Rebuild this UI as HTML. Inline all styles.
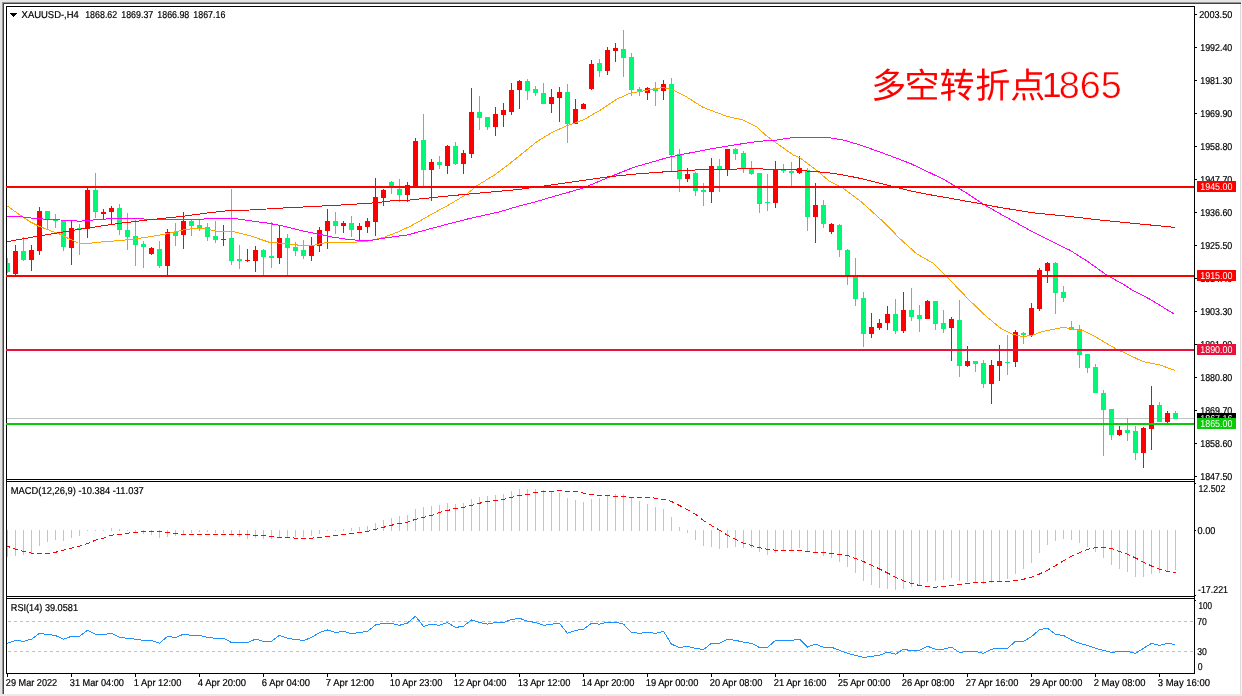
<!DOCTYPE html><html><head><meta charset="utf-8"><title>XAUUSD H4</title>
<style>html,body{margin:0;padding:0;background:#fff}svg{display:block;will-change:transform}text{font-family:"Liberation Sans",sans-serif;text-rendering:geometricPrecision}</style></head><body>
<svg width="1242" height="696" viewBox="0 0 1242 696">
<rect width="1242" height="696" fill="#fff"/>
<g shape-rendering="crispEdges">
<rect x="0" y="0" width="1242" height="2" fill="#e6e6e6"/>
<rect x="0" y="2" width="2" height="692" fill="#e4e4e4"/>
<rect x="2" y="2" width="1239" height="1" fill="#969696"/>
<rect x="2" y="3" width="1239" height="1" fill="#444444"/>
<rect x="2" y="2" width="1" height="692" fill="#969696"/>
<rect x="3" y="3" width="1" height="691" fill="#444444"/>
<rect x="1240" y="4" width="1" height="690" fill="#dcdcdc"/>
<rect x="1241" y="2" width="1" height="692" fill="#f4f4f4"/>
<rect x="0" y="694" width="1242" height="2" fill="#e9e9e9"/>
</g>
<rect x="7" y="418" width="1187" height="1" fill="#c0c0c0" shape-rendering="crispEdges"/>
<g shape-rendering="crispEdges">
<rect x="7" y="258" width="1" height="15" fill="#00f876"/><rect x="7" y="263" width="3" height="9" fill="#00f876"/>
<rect x="15" y="245" width="1" height="30" fill="#ff0000"/><rect x="13" y="251" width="5" height="23" fill="#ff0000"/>
<rect x="23" y="237" width="1" height="24" fill="#00f876"/><rect x="21" y="251" width="5" height="9" fill="#00f876"/>
<rect x="31" y="245" width="1" height="26" fill="#ff0000"/><rect x="29" y="250" width="5" height="10" fill="#ff0000"/>
<rect x="39" y="207" width="1" height="48" fill="#ff0000"/><rect x="37" y="211" width="5" height="40" fill="#ff0000"/>
<rect x="47" y="211" width="1" height="19" fill="#00f876"/><rect x="45" y="211" width="5" height="8" fill="#00f876"/>
<rect x="55" y="214" width="1" height="14" fill="#00f876"/><rect x="53" y="220" width="5" height="1" fill="#00f876"/>
<rect x="63" y="220" width="1" height="31" fill="#00f876"/><rect x="61" y="220" width="5" height="27" fill="#00f876"/>
<rect x="71" y="221" width="1" height="44" fill="#ff0000"/><rect x="69" y="228" width="5" height="20" fill="#ff0000"/>
<rect x="79" y="224" width="1" height="31" fill="#00f876"/><rect x="77" y="228" width="5" height="2" fill="#00f876"/>
<rect x="87" y="188" width="1" height="50" fill="#ff0000"/><rect x="85" y="190" width="5" height="39" fill="#ff0000"/>
<rect x="95" y="173" width="1" height="45" fill="#00f876"/><rect x="93" y="190" width="5" height="22" fill="#00f876"/>
<rect x="103" y="209" width="1" height="10" fill="#ff0000"/><rect x="101" y="212" width="5" height="2" fill="#ff0000"/>
<rect x="111" y="206" width="1" height="19" fill="#ff0000"/><rect x="109" y="208" width="5" height="4" fill="#ff0000"/>
<rect x="119" y="204" width="1" height="31" fill="#00f876"/><rect x="117" y="208" width="5" height="22" fill="#00f876"/>
<rect x="127" y="213" width="1" height="37" fill="#00f876"/><rect x="125" y="230" width="5" height="7" fill="#00f876"/>
<rect x="135" y="220" width="1" height="46" fill="#00f876"/><rect x="133" y="236" width="5" height="9" fill="#00f876"/>
<rect x="143" y="241" width="1" height="27" fill="#00f876"/><rect x="141" y="244" width="5" height="3" fill="#00f876"/>
<rect x="151" y="247" width="1" height="8" fill="#ff0000"/><rect x="149" y="248" width="5" height="6" fill="#ff0000"/>
<rect x="159" y="241" width="1" height="27" fill="#00f876"/><rect x="157" y="249" width="5" height="17" fill="#00f876"/>
<rect x="167" y="229" width="1" height="46" fill="#ff0000"/><rect x="165" y="232" width="5" height="34" fill="#ff0000"/>
<rect x="175" y="223" width="1" height="23" fill="#00f876"/><rect x="173" y="232" width="5" height="4" fill="#00f876"/>
<rect x="183" y="212" width="1" height="37" fill="#ff0000"/><rect x="181" y="221" width="5" height="14" fill="#ff0000"/>
<rect x="191" y="220" width="1" height="16" fill="#00f876"/><rect x="189" y="221" width="5" height="5" fill="#00f876"/>
<rect x="199" y="220" width="1" height="11" fill="#00f876"/><rect x="197" y="225" width="5" height="3" fill="#00f876"/>
<rect x="207" y="223" width="1" height="18" fill="#00f876"/><rect x="205" y="227" width="5" height="10" fill="#00f876"/>
<rect x="215" y="221" width="1" height="22" fill="#00f876"/><rect x="213" y="236" width="5" height="4" fill="#00f876"/>
<rect x="223" y="225" width="1" height="21" fill="#ff0000"/><rect x="221" y="239" width="5" height="1" fill="#ff0000"/>
<rect x="231" y="189" width="1" height="76" fill="#00f876"/><rect x="229" y="238" width="5" height="23" fill="#00f876"/>
<rect x="239" y="245" width="1" height="24" fill="#00f876"/><rect x="237" y="259" width="5" height="2" fill="#00f876"/>
<rect x="247" y="249" width="1" height="13" fill="#ff0000"/><rect x="245" y="260" width="5" height="1" fill="#ff0000"/>
<rect x="255" y="246" width="1" height="26" fill="#ff0000"/><rect x="253" y="250" width="5" height="11" fill="#ff0000"/>
<rect x="263" y="249" width="1" height="26" fill="#00f876"/><rect x="261" y="250" width="5" height="7" fill="#00f876"/>
<rect x="271" y="222" width="1" height="46" fill="#00f876"/><rect x="269" y="256" width="5" height="2" fill="#00f876"/>
<rect x="279" y="226" width="1" height="38" fill="#ff0000"/><rect x="277" y="238" width="5" height="20" fill="#ff0000"/>
<rect x="287" y="234" width="1" height="41" fill="#00f876"/><rect x="285" y="238" width="5" height="10" fill="#00f876"/>
<rect x="295" y="242" width="1" height="14" fill="#00f876"/><rect x="293" y="247" width="5" height="4" fill="#00f876"/>
<rect x="303" y="240" width="1" height="19" fill="#00f876"/><rect x="301" y="250" width="5" height="6" fill="#00f876"/>
<rect x="311" y="237" width="1" height="24" fill="#ff0000"/><rect x="309" y="246" width="5" height="10" fill="#ff0000"/>
<rect x="319" y="227" width="1" height="25" fill="#ff0000"/><rect x="317" y="230" width="5" height="16" fill="#ff0000"/>
<rect x="327" y="209" width="1" height="40" fill="#ff0000"/><rect x="325" y="221" width="5" height="10" fill="#ff0000"/>
<rect x="335" y="212" width="1" height="22" fill="#00f876"/><rect x="333" y="221" width="5" height="5" fill="#00f876"/>
<rect x="343" y="221" width="1" height="12" fill="#ff0000"/><rect x="341" y="223" width="5" height="3" fill="#ff0000"/>
<rect x="351" y="216" width="1" height="21" fill="#00f876"/><rect x="349" y="223" width="5" height="7" fill="#00f876"/>
<rect x="359" y="223" width="1" height="17" fill="#ff0000"/><rect x="357" y="226" width="5" height="4" fill="#ff0000"/>
<rect x="367" y="218" width="1" height="15" fill="#ff0000"/><rect x="365" y="221" width="5" height="6" fill="#ff0000"/>
<rect x="375" y="178" width="1" height="58" fill="#ff0000"/><rect x="373" y="197" width="5" height="25" fill="#ff0000"/>
<rect x="383" y="189" width="1" height="17" fill="#ff0000"/><rect x="381" y="190" width="5" height="8" fill="#ff0000"/>
<rect x="391" y="181" width="1" height="13" fill="#00f876"/><rect x="389" y="182" width="5" height="6" fill="#00f876"/>
<rect x="399" y="179" width="1" height="23" fill="#00f876"/><rect x="397" y="189" width="5" height="6" fill="#00f876"/>
<rect x="407" y="182" width="1" height="20" fill="#ff0000"/><rect x="405" y="185" width="5" height="10" fill="#ff0000"/>
<rect x="415" y="138" width="1" height="49" fill="#ff0000"/><rect x="413" y="141" width="5" height="46" fill="#ff0000"/>
<rect x="423" y="114" width="1" height="72" fill="#00f876"/><rect x="421" y="140" width="5" height="30" fill="#00f876"/>
<rect x="431" y="159" width="1" height="42" fill="#ff0000"/><rect x="429" y="162" width="5" height="8" fill="#ff0000"/>
<rect x="439" y="156" width="1" height="13" fill="#00f876"/><rect x="437" y="162" width="5" height="3" fill="#00f876"/>
<rect x="447" y="145" width="1" height="29" fill="#ff0000"/><rect x="445" y="146" width="5" height="20" fill="#ff0000"/>
<rect x="455" y="142" width="1" height="23" fill="#00f876"/><rect x="453" y="146" width="5" height="18" fill="#00f876"/>
<rect x="463" y="150" width="1" height="24" fill="#ff0000"/><rect x="461" y="153" width="5" height="11" fill="#ff0000"/>
<rect x="471" y="88" width="1" height="70" fill="#ff0000"/><rect x="469" y="112" width="5" height="42" fill="#ff0000"/>
<rect x="479" y="96" width="1" height="34" fill="#00f876"/><rect x="477" y="112" width="5" height="6" fill="#00f876"/>
<rect x="487" y="117" width="1" height="13" fill="#00f876"/><rect x="485" y="117" width="5" height="10" fill="#00f876"/>
<rect x="495" y="107" width="1" height="29" fill="#ff0000"/><rect x="493" y="114" width="5" height="13" fill="#ff0000"/>
<rect x="503" y="103" width="1" height="24" fill="#ff0000"/><rect x="501" y="110" width="5" height="5" fill="#ff0000"/>
<rect x="511" y="83" width="1" height="32" fill="#ff0000"/><rect x="509" y="90" width="5" height="22" fill="#ff0000"/>
<rect x="519" y="80" width="1" height="29" fill="#ff0000"/><rect x="517" y="81" width="5" height="9" fill="#ff0000"/>
<rect x="527" y="79" width="1" height="21" fill="#00f876"/><rect x="525" y="81" width="5" height="10" fill="#00f876"/>
<rect x="535" y="86" width="1" height="10" fill="#00f876"/><rect x="533" y="89" width="5" height="4" fill="#00f876"/>
<rect x="543" y="83" width="1" height="21" fill="#00f876"/><rect x="541" y="93" width="5" height="11" fill="#00f876"/>
<rect x="551" y="89" width="1" height="24" fill="#ff0000"/><rect x="549" y="97" width="5" height="7" fill="#ff0000"/>
<rect x="559" y="87" width="1" height="35" fill="#ff0000"/><rect x="557" y="92" width="5" height="6" fill="#ff0000"/>
<rect x="567" y="84" width="1" height="59" fill="#00f876"/><rect x="565" y="92" width="5" height="32" fill="#00f876"/>
<rect x="575" y="99" width="1" height="25" fill="#ff0000"/><rect x="573" y="109" width="5" height="15" fill="#ff0000"/>
<rect x="583" y="103" width="1" height="6" fill="#ff0000"/><rect x="581" y="104" width="5" height="5" fill="#ff0000"/>
<rect x="591" y="60" width="1" height="30" fill="#ff0000"/><rect x="589" y="64" width="5" height="25" fill="#ff0000"/>
<rect x="599" y="59" width="1" height="18" fill="#00f876"/><rect x="597" y="63" width="5" height="8" fill="#00f876"/>
<rect x="607" y="47" width="1" height="28" fill="#ff0000"/><rect x="605" y="50" width="5" height="21" fill="#ff0000"/>
<rect x="615" y="43" width="1" height="19" fill="#ff0000"/><rect x="613" y="48" width="5" height="3" fill="#ff0000"/>
<rect x="623" y="30" width="1" height="47" fill="#00f876"/><rect x="621" y="49" width="5" height="9" fill="#00f876"/>
<rect x="631" y="53" width="1" height="43" fill="#00f876"/><rect x="629" y="57" width="5" height="33" fill="#00f876"/>
<rect x="639" y="87" width="1" height="9" fill="#00f876"/><rect x="637" y="89" width="5" height="3" fill="#00f876"/>
<rect x="647" y="87" width="1" height="13" fill="#ff0000"/><rect x="645" y="88" width="5" height="5" fill="#ff0000"/>
<rect x="655" y="82" width="1" height="24" fill="#00f876"/><rect x="653" y="88" width="5" height="3" fill="#00f876"/>
<rect x="663" y="80" width="1" height="20" fill="#ff0000"/><rect x="661" y="84" width="5" height="7" fill="#ff0000"/>
<rect x="671" y="78" width="1" height="94" fill="#00f876"/><rect x="669" y="84" width="5" height="71" fill="#00f876"/>
<rect x="679" y="149" width="1" height="43" fill="#00f876"/><rect x="677" y="154" width="5" height="25" fill="#00f876"/>
<rect x="687" y="168" width="1" height="14" fill="#ff0000"/><rect x="685" y="174" width="5" height="5" fill="#ff0000"/>
<rect x="695" y="172" width="1" height="24" fill="#00f876"/><rect x="693" y="173" width="5" height="18" fill="#00f876"/>
<rect x="703" y="183" width="1" height="23" fill="#00f876"/><rect x="701" y="190" width="5" height="2" fill="#00f876"/>
<rect x="711" y="158" width="1" height="45" fill="#ff0000"/><rect x="709" y="166" width="5" height="26" fill="#ff0000"/>
<rect x="719" y="159" width="1" height="33" fill="#00f876"/><rect x="717" y="166" width="5" height="4" fill="#00f876"/>
<rect x="727" y="149" width="1" height="27" fill="#ff0000"/><rect x="725" y="149" width="5" height="21" fill="#ff0000"/>
<rect x="735" y="148" width="1" height="12" fill="#00f876"/><rect x="733" y="149" width="5" height="5" fill="#00f876"/>
<rect x="743" y="151" width="1" height="22" fill="#00f876"/><rect x="741" y="153" width="5" height="16" fill="#00f876"/>
<rect x="751" y="161" width="1" height="14" fill="#00f876"/><rect x="749" y="169" width="5" height="5" fill="#00f876"/>
<rect x="759" y="173" width="1" height="40" fill="#00f876"/><rect x="757" y="173" width="5" height="31" fill="#00f876"/>
<rect x="767" y="174" width="1" height="37" fill="#00f876"/><rect x="765" y="202" width="5" height="1" fill="#00f876"/>
<rect x="775" y="161" width="1" height="47" fill="#ff0000"/><rect x="773" y="169" width="5" height="34" fill="#ff0000"/>
<rect x="783" y="164" width="1" height="9" fill="#00f876"/><rect x="781" y="170" width="5" height="1" fill="#00f876"/>
<rect x="791" y="162" width="1" height="24" fill="#00f876"/><rect x="789" y="171" width="5" height="2" fill="#00f876"/>
<rect x="799" y="156" width="1" height="18" fill="#ff0000"/><rect x="797" y="168" width="5" height="5" fill="#ff0000"/>
<rect x="807" y="168" width="1" height="63" fill="#00f876"/><rect x="805" y="170" width="5" height="47" fill="#00f876"/>
<rect x="815" y="183" width="1" height="60" fill="#ff0000"/><rect x="813" y="205" width="5" height="12" fill="#ff0000"/>
<rect x="823" y="200" width="1" height="28" fill="#00f876"/><rect x="821" y="205" width="5" height="19" fill="#00f876"/>
<rect x="831" y="223" width="1" height="11" fill="#ff0000"/><rect x="829" y="224" width="5" height="8" fill="#ff0000"/>
<rect x="839" y="224" width="1" height="33" fill="#00f876"/><rect x="837" y="225" width="5" height="25" fill="#00f876"/>
<rect x="847" y="249" width="1" height="36" fill="#00f876"/><rect x="845" y="250" width="5" height="25" fill="#00f876"/>
<rect x="855" y="258" width="1" height="48" fill="#00f876"/><rect x="853" y="275" width="5" height="24" fill="#00f876"/>
<rect x="863" y="292" width="1" height="55" fill="#00f876"/><rect x="861" y="298" width="5" height="36" fill="#00f876"/>
<rect x="871" y="313" width="1" height="25" fill="#ff0000"/><rect x="869" y="327" width="5" height="7" fill="#ff0000"/>
<rect x="879" y="319" width="1" height="11" fill="#ff0000"/><rect x="877" y="323" width="5" height="5" fill="#ff0000"/>
<rect x="887" y="306" width="1" height="24" fill="#ff0000"/><rect x="885" y="314" width="5" height="9" fill="#ff0000"/>
<rect x="895" y="299" width="1" height="35" fill="#00f876"/><rect x="893" y="314" width="5" height="17" fill="#00f876"/>
<rect x="903" y="292" width="1" height="41" fill="#ff0000"/><rect x="901" y="310" width="5" height="21" fill="#ff0000"/>
<rect x="911" y="288" width="1" height="33" fill="#00f876"/><rect x="909" y="310" width="5" height="7" fill="#00f876"/>
<rect x="919" y="305" width="1" height="27" fill="#00f876"/><rect x="917" y="315" width="5" height="4" fill="#00f876"/>
<rect x="927" y="300" width="1" height="19" fill="#ff0000"/><rect x="925" y="301" width="5" height="18" fill="#ff0000"/>
<rect x="935" y="301" width="1" height="29" fill="#00f876"/><rect x="933" y="301" width="5" height="23" fill="#00f876"/>
<rect x="943" y="310" width="1" height="23" fill="#00f876"/><rect x="941" y="323" width="5" height="6" fill="#00f876"/>
<rect x="951" y="317" width="1" height="44" fill="#ff0000"/><rect x="949" y="319" width="5" height="9" fill="#ff0000"/>
<rect x="959" y="300" width="1" height="77" fill="#00f876"/><rect x="957" y="320" width="5" height="46" fill="#00f876"/>
<rect x="967" y="346" width="1" height="21" fill="#ff0000"/><rect x="965" y="361" width="5" height="5" fill="#ff0000"/>
<rect x="975" y="361" width="1" height="11" fill="#00f876"/><rect x="973" y="361" width="5" height="3" fill="#00f876"/>
<rect x="983" y="360" width="1" height="28" fill="#00f876"/><rect x="981" y="363" width="5" height="21" fill="#00f876"/>
<rect x="991" y="360" width="1" height="44" fill="#ff0000"/><rect x="989" y="365" width="5" height="19" fill="#ff0000"/>
<rect x="999" y="345" width="1" height="36" fill="#ff0000"/><rect x="997" y="361" width="5" height="5" fill="#ff0000"/>
<rect x="1007" y="335" width="1" height="40" fill="#00f876"/><rect x="1005" y="362" width="5" height="1" fill="#00f876"/>
<rect x="1015" y="330" width="1" height="37" fill="#ff0000"/><rect x="1013" y="332" width="5" height="30" fill="#ff0000"/>
<rect x="1023" y="332" width="1" height="12" fill="#00f876"/><rect x="1021" y="333" width="5" height="2" fill="#00f876"/>
<rect x="1031" y="303" width="1" height="34" fill="#ff0000"/><rect x="1029" y="308" width="5" height="27" fill="#ff0000"/>
<rect x="1039" y="268" width="1" height="43" fill="#ff0000"/><rect x="1037" y="270" width="5" height="39" fill="#ff0000"/>
<rect x="1047" y="262" width="1" height="21" fill="#ff0000"/><rect x="1045" y="263" width="5" height="8" fill="#ff0000"/>
<rect x="1055" y="262" width="1" height="52" fill="#00f876"/><rect x="1053" y="263" width="5" height="30" fill="#00f876"/>
<rect x="1063" y="286" width="1" height="16" fill="#00f876"/><rect x="1061" y="292" width="5" height="6" fill="#00f876"/>
<rect x="1071" y="321" width="1" height="9" fill="#00f876"/><rect x="1069" y="327" width="5" height="3" fill="#00f876"/>
<rect x="1079" y="325" width="1" height="43" fill="#00f876"/><rect x="1077" y="329" width="5" height="26" fill="#00f876"/>
<rect x="1087" y="354" width="1" height="19" fill="#00f876"/><rect x="1085" y="354" width="5" height="14" fill="#00f876"/>
<rect x="1095" y="364" width="1" height="29" fill="#00f876"/><rect x="1093" y="367" width="5" height="26" fill="#00f876"/>
<rect x="1103" y="390" width="1" height="66" fill="#00f876"/><rect x="1101" y="393" width="5" height="17" fill="#00f876"/>
<rect x="1111" y="409" width="1" height="31" fill="#00f876"/><rect x="1109" y="409" width="5" height="26" fill="#00f876"/>
<rect x="1119" y="426" width="1" height="10" fill="#ff0000"/><rect x="1117" y="430" width="5" height="5" fill="#ff0000"/>
<rect x="1127" y="418" width="1" height="23" fill="#00f876"/><rect x="1125" y="430" width="5" height="3" fill="#00f876"/>
<rect x="1135" y="426" width="1" height="34" fill="#00f876"/><rect x="1133" y="431" width="5" height="22" fill="#00f876"/>
<rect x="1143" y="427" width="1" height="41" fill="#ff0000"/><rect x="1141" y="428" width="5" height="25" fill="#ff0000"/>
<rect x="1151" y="386" width="1" height="64" fill="#ff0000"/><rect x="1149" y="405" width="5" height="24" fill="#ff0000"/>
<rect x="1159" y="402" width="1" height="20" fill="#00f876"/><rect x="1157" y="405" width="5" height="17" fill="#00f876"/>
<rect x="1167" y="411" width="1" height="12" fill="#ff0000"/><rect x="1165" y="413" width="5" height="9" fill="#ff0000"/>
<rect x="1175" y="411" width="1" height="8" fill="#00f876"/><rect x="1173" y="413" width="5" height="6" fill="#00f876"/>
</g>
<polyline points="7.0,205.8 20.0,215.0 30.0,221.7 40.0,226.7 50.0,230.5 60.0,234.2 70.0,239.2 78.3,243.0 90.0,243.3 103.3,241.7 116.7,240.8 133.3,239.2 150.0,236.7 166.7,233.8 183.3,230.0 196.7,228.0 207.0,229.2 216.7,231.2 233.3,231.7 250.0,235.8 270.0,242.5 283.3,243.3 300.0,245.3 313.3,245.3 326.7,242.5 350.0,242.5 366.7,241.3 383.3,237.5 396.7,232.5 407.0,227.8 410.8,226.0 433.3,213.3 450.0,204.2 466.7,194.2 476.7,185.8 493.3,175.8 510.0,163.3 526.7,150.0 536.7,141.7 553.3,131.7 566.7,125.8 583.3,120.0 600.0,110.3 616.7,99.2 630.0,93.3 650.0,89.7 663.3,87.5 673.3,90.0 686.7,97.0 703.3,107.5 726.7,116.3 743.3,120.0 756.7,126.7 765.8,135.3 773.3,140.8 776.7,143.3 793.3,155.0 800.0,157.8 816.7,170.4 830.0,181.7 843.3,188.3 850.0,193.3 860.0,200.8 866.7,206.7 876.7,215.8 883.3,221.7 900.0,238.8 916.7,253.8 933.3,263.3 950.0,280.0 966.7,297.5 983.3,313.8 1000.0,327.8 1013.3,334.5 1023.3,336.7 1033.3,335.0 1041.7,331.7 1050.0,330.0 1063.3,327.3 1073.3,329.2 1083.3,330.8 1096.7,337.5 1107.0,343.7 1116.7,349.2 1143.3,361.7 1160.0,365.0 1174.6,370.3" fill="none" stroke="#ffa500" stroke-width="1" shape-rendering="crispEdges" />
<polyline points="7.0,216.3 20.0,216.7 33.3,218.3 50.0,219.5 66.7,220.3 80.0,221.2 93.3,220.0 110.0,218.7 133.3,218.7 150.0,219.2 166.7,219.7 183.3,220.0 200.0,219.5 210.0,218.3 233.3,218.3 250.0,220.8 266.7,223.0 280.0,225.3 300.0,230.3 316.7,233.8 333.3,237.2 350.0,239.7 366.7,240.8 375.0,239.7 391.7,237.0 407.0,235.0 443.3,225.3 466.7,219.2 500.0,211.7 516.7,206.7 533.3,202.5 550.0,197.5 566.7,192.8 583.3,188.0 607.0,178.0 633.3,167.5 666.7,157.8 683.3,154.2 716.7,147.8 750.0,142.5 760.0,141.2 776.7,140.0 793.3,137.5 810.0,137.3 826.7,137.3 843.3,140.0 860.0,145.0 876.7,150.8 893.3,157.0 910.0,163.3 926.7,171.2 943.3,179.2 953.3,185.0 967.0,193.3 983.3,204.2 1000.0,213.7 1016.7,223.0 1033.3,232.2 1053.3,242.0 1070.0,250.3 1086.7,260.8 1106.7,275.0 1125.0,285.3 1133.3,290.8 1150.0,299.2 1174.5,314.3" fill="none" stroke="#ff00ff" stroke-width="1" shape-rendering="crispEdges" />
<polyline points="7.0,241.7 40.0,235.8 80.0,229.2 116.7,223.7 150.0,219.7 183.3,216.2 207.0,213.0 230.0,210.5 250.0,210.0 283.3,208.0 316.7,206.3 350.0,204.5 375.0,202.8 391.7,200.8 407.0,200.3 433.3,197.5 466.7,194.2 500.0,191.2 516.7,189.7 540.0,186.5 566.7,182.8 607.0,177.0 633.3,174.2 666.7,171.7 700.0,169.7 733.3,169.2 750.0,168.3 766.7,169.2 793.3,169.7 810.0,171.3 826.7,172.5 843.3,175.0 860.0,178.3 876.7,182.5 890.0,185.8 910.0,190.8 926.7,194.2 943.3,197.0 967.0,201.3 983.3,204.2 1000.0,207.5 1033.3,212.8 1066.7,216.2 1100.0,220.0 1133.3,223.3 1174.6,227.4" fill="none" stroke="#ff0000" stroke-width="1" shape-rendering="crispEdges" />
<g shape-rendering="crispEdges">
<rect x="7" y="530" width="1" height="27" fill="#c4c4c4"/>
<rect x="15" y="530" width="1" height="26" fill="#c4c4c4"/>
<rect x="23" y="530" width="1" height="25" fill="#c4c4c4"/>
<rect x="31" y="530" width="1" height="23" fill="#c4c4c4"/>
<rect x="39" y="530" width="1" height="16" fill="#c4c4c4"/>
<rect x="47" y="530" width="1" height="12" fill="#c4c4c4"/>
<rect x="55" y="530" width="1" height="10" fill="#c4c4c4"/>
<rect x="63" y="530" width="1" height="11" fill="#c4c4c4"/>
<rect x="71" y="530" width="1" height="8" fill="#c4c4c4"/>
<rect x="79" y="530" width="1" height="6" fill="#c4c4c4"/>
<rect x="87" y="530" width="1" height="1" fill="#c4c4c4"/>
<rect x="95" y="530" width="1" height="1" fill="#c4c4c4"/>
<rect x="103" y="530" width="1" height="1" fill="#c4c4c4"/>
<rect x="111" y="528" width="1" height="3" fill="#c4c4c4"/>
<rect x="119" y="529" width="1" height="2" fill="#c4c4c4"/>
<rect x="127" y="530" width="1" height="1" fill="#c4c4c4"/>
<rect x="135" y="530" width="1" height="3" fill="#c4c4c4"/>
<rect x="143" y="530" width="1" height="4" fill="#c4c4c4"/>
<rect x="151" y="530" width="1" height="5" fill="#c4c4c4"/>
<rect x="159" y="530" width="1" height="8" fill="#c4c4c4"/>
<rect x="167" y="530" width="1" height="7" fill="#c4c4c4"/>
<rect x="175" y="530" width="1" height="6" fill="#c4c4c4"/>
<rect x="183" y="530" width="1" height="4" fill="#c4c4c4"/>
<rect x="191" y="530" width="1" height="3" fill="#c4c4c4"/>
<rect x="199" y="530" width="1" height="2" fill="#c4c4c4"/>
<rect x="207" y="530" width="1" height="2" fill="#c4c4c4"/>
<rect x="215" y="530" width="1" height="3" fill="#c4c4c4"/>
<rect x="223" y="530" width="1" height="3" fill="#c4c4c4"/>
<rect x="231" y="530" width="1" height="4" fill="#c4c4c4"/>
<rect x="239" y="530" width="1" height="7" fill="#c4c4c4"/>
<rect x="247" y="530" width="1" height="9" fill="#c4c4c4"/>
<rect x="255" y="530" width="1" height="8" fill="#c4c4c4"/>
<rect x="263" y="530" width="1" height="9" fill="#c4c4c4"/>
<rect x="271" y="530" width="1" height="9" fill="#c4c4c4"/>
<rect x="279" y="530" width="1" height="8" fill="#c4c4c4"/>
<rect x="287" y="530" width="1" height="8" fill="#c4c4c4"/>
<rect x="295" y="530" width="1" height="7" fill="#c4c4c4"/>
<rect x="303" y="530" width="1" height="7" fill="#c4c4c4"/>
<rect x="311" y="530" width="1" height="6" fill="#c4c4c4"/>
<rect x="319" y="530" width="1" height="4" fill="#c4c4c4"/>
<rect x="327" y="530" width="1" height="1" fill="#c4c4c4"/>
<rect x="335" y="530" width="1" height="1" fill="#c4c4c4"/>
<rect x="343" y="529" width="1" height="2" fill="#c4c4c4"/>
<rect x="351" y="528" width="1" height="3" fill="#c4c4c4"/>
<rect x="359" y="527" width="1" height="4" fill="#c4c4c4"/>
<rect x="367" y="526" width="1" height="5" fill="#c4c4c4"/>
<rect x="375" y="523" width="1" height="8" fill="#c4c4c4"/>
<rect x="383" y="520" width="1" height="11" fill="#c4c4c4"/>
<rect x="391" y="518" width="1" height="13" fill="#c4c4c4"/>
<rect x="399" y="516" width="1" height="15" fill="#c4c4c4"/>
<rect x="407" y="515" width="1" height="16" fill="#c4c4c4"/>
<rect x="415" y="509" width="1" height="22" fill="#c4c4c4"/>
<rect x="423" y="507" width="1" height="24" fill="#c4c4c4"/>
<rect x="431" y="506" width="1" height="25" fill="#c4c4c4"/>
<rect x="439" y="505" width="1" height="26" fill="#c4c4c4"/>
<rect x="447" y="503" width="1" height="28" fill="#c4c4c4"/>
<rect x="455" y="504" width="1" height="27" fill="#c4c4c4"/>
<rect x="463" y="503" width="1" height="28" fill="#c4c4c4"/>
<rect x="471" y="499" width="1" height="32" fill="#c4c4c4"/>
<rect x="479" y="497" width="1" height="34" fill="#c4c4c4"/>
<rect x="487" y="496" width="1" height="35" fill="#c4c4c4"/>
<rect x="495" y="495" width="1" height="36" fill="#c4c4c4"/>
<rect x="503" y="494" width="1" height="37" fill="#c4c4c4"/>
<rect x="511" y="491" width="1" height="40" fill="#c4c4c4"/>
<rect x="519" y="489" width="1" height="42" fill="#c4c4c4"/>
<rect x="527" y="489" width="1" height="42" fill="#c4c4c4"/>
<rect x="535" y="489" width="1" height="42" fill="#c4c4c4"/>
<rect x="543" y="490" width="1" height="41" fill="#c4c4c4"/>
<rect x="551" y="491" width="1" height="40" fill="#c4c4c4"/>
<rect x="559" y="493" width="1" height="38" fill="#c4c4c4"/>
<rect x="567" y="498" width="1" height="33" fill="#c4c4c4"/>
<rect x="575" y="500" width="1" height="31" fill="#c4c4c4"/>
<rect x="583" y="502" width="1" height="29" fill="#c4c4c4"/>
<rect x="591" y="499" width="1" height="32" fill="#c4c4c4"/>
<rect x="599" y="498" width="1" height="33" fill="#c4c4c4"/>
<rect x="607" y="496" width="1" height="35" fill="#c4c4c4"/>
<rect x="615" y="494" width="1" height="37" fill="#c4c4c4"/>
<rect x="623" y="494" width="1" height="37" fill="#c4c4c4"/>
<rect x="631" y="498" width="1" height="33" fill="#c4c4c4"/>
<rect x="639" y="501" width="1" height="30" fill="#c4c4c4"/>
<rect x="647" y="504" width="1" height="27" fill="#c4c4c4"/>
<rect x="655" y="507" width="1" height="24" fill="#c4c4c4"/>
<rect x="663" y="509" width="1" height="22" fill="#c4c4c4"/>
<rect x="671" y="517" width="1" height="14" fill="#c4c4c4"/>
<rect x="679" y="527" width="1" height="4" fill="#c4c4c4"/>
<rect x="687" y="530" width="1" height="3" fill="#c4c4c4"/>
<rect x="695" y="530" width="1" height="10" fill="#c4c4c4"/>
<rect x="703" y="530" width="1" height="16" fill="#c4c4c4"/>
<rect x="711" y="530" width="1" height="17" fill="#c4c4c4"/>
<rect x="719" y="530" width="1" height="19" fill="#c4c4c4"/>
<rect x="727" y="530" width="1" height="18" fill="#c4c4c4"/>
<rect x="735" y="530" width="1" height="17" fill="#c4c4c4"/>
<rect x="743" y="530" width="1" height="18" fill="#c4c4c4"/>
<rect x="751" y="530" width="1" height="18" fill="#c4c4c4"/>
<rect x="759" y="530" width="1" height="22" fill="#c4c4c4"/>
<rect x="767" y="530" width="1" height="25" fill="#c4c4c4"/>
<rect x="775" y="530" width="1" height="23" fill="#c4c4c4"/>
<rect x="783" y="530" width="1" height="21" fill="#c4c4c4"/>
<rect x="791" y="530" width="1" height="20" fill="#c4c4c4"/>
<rect x="799" y="530" width="1" height="18" fill="#c4c4c4"/>
<rect x="807" y="530" width="1" height="21" fill="#c4c4c4"/>
<rect x="815" y="530" width="1" height="23" fill="#c4c4c4"/>
<rect x="823" y="530" width="1" height="26" fill="#c4c4c4"/>
<rect x="831" y="530" width="1" height="28" fill="#c4c4c4"/>
<rect x="839" y="530" width="1" height="32" fill="#c4c4c4"/>
<rect x="847" y="530" width="1" height="37" fill="#c4c4c4"/>
<rect x="855" y="530" width="1" height="43" fill="#c4c4c4"/>
<rect x="863" y="530" width="1" height="51" fill="#c4c4c4"/>
<rect x="871" y="530" width="1" height="55" fill="#c4c4c4"/>
<rect x="879" y="530" width="1" height="58" fill="#c4c4c4"/>
<rect x="887" y="530" width="1" height="59" fill="#c4c4c4"/>
<rect x="895" y="530" width="1" height="60" fill="#c4c4c4"/>
<rect x="903" y="530" width="1" height="59" fill="#c4c4c4"/>
<rect x="911" y="530" width="1" height="57" fill="#c4c4c4"/>
<rect x="919" y="530" width="1" height="55" fill="#c4c4c4"/>
<rect x="927" y="530" width="1" height="52" fill="#c4c4c4"/>
<rect x="935" y="530" width="1" height="51" fill="#c4c4c4"/>
<rect x="943" y="530" width="1" height="50" fill="#c4c4c4"/>
<rect x="951" y="530" width="1" height="48" fill="#c4c4c4"/>
<rect x="959" y="530" width="1" height="51" fill="#c4c4c4"/>
<rect x="967" y="530" width="1" height="52" fill="#c4c4c4"/>
<rect x="975" y="530" width="1" height="53" fill="#c4c4c4"/>
<rect x="983" y="530" width="1" height="54" fill="#c4c4c4"/>
<rect x="991" y="530" width="1" height="53" fill="#c4c4c4"/>
<rect x="999" y="530" width="1" height="52" fill="#c4c4c4"/>
<rect x="1007" y="530" width="1" height="49" fill="#c4c4c4"/>
<rect x="1015" y="530" width="1" height="44" fill="#c4c4c4"/>
<rect x="1023" y="530" width="1" height="39" fill="#c4c4c4"/>
<rect x="1031" y="530" width="1" height="33" fill="#c4c4c4"/>
<rect x="1039" y="530" width="1" height="23" fill="#c4c4c4"/>
<rect x="1047" y="530" width="1" height="15" fill="#c4c4c4"/>
<rect x="1055" y="530" width="1" height="11" fill="#c4c4c4"/>
<rect x="1063" y="530" width="1" height="9" fill="#c4c4c4"/>
<rect x="1071" y="530" width="1" height="10" fill="#c4c4c4"/>
<rect x="1079" y="530" width="1" height="13" fill="#c4c4c4"/>
<rect x="1087" y="530" width="1" height="17" fill="#c4c4c4"/>
<rect x="1095" y="530" width="1" height="22" fill="#c4c4c4"/>
<rect x="1103" y="530" width="1" height="28" fill="#c4c4c4"/>
<rect x="1111" y="530" width="1" height="35" fill="#c4c4c4"/>
<rect x="1119" y="530" width="1" height="39" fill="#c4c4c4"/>
<rect x="1127" y="530" width="1" height="42" fill="#c4c4c4"/>
<rect x="1135" y="530" width="1" height="47" fill="#c4c4c4"/>
<rect x="1143" y="530" width="1" height="47" fill="#c4c4c4"/>
<rect x="1151" y="530" width="1" height="44" fill="#c4c4c4"/>
<rect x="1159" y="530" width="1" height="43" fill="#c4c4c4"/>
<rect x="1167" y="530" width="1" height="42" fill="#c4c4c4"/>
<rect x="1175" y="530" width="1" height="40" fill="#c4c4c4"/>
</g>
<path d="M7.0 546.1L7.5 546.3L10.0 547.2M13.0 548.4L15.5 549.3L18.0 549.9M21.0 550.7L23.5 551.3L26.0 551.9M29.0 552.6L31.5 553.2L34.0 553.3M37.0 553.4L39.5 553.5L42.0 553.5M45.0 553.5L47.5 553.5L50.0 553.1M53.0 552.7L55.5 552.3L58.0 551.6M61.0 550.9L63.5 550.2L66.0 549.6M69.0 548.8L71.5 548.2L74.0 547.6M77.0 546.9L79.5 546.3L82.0 545.4M85.0 544.4L87.5 543.5L90.0 542.5M93.0 541.2L95.5 540.2L98.0 539.6M101.0 538.8L103.5 538.2L106.0 537.3M109.0 536.1L111.5 535.2L114.0 534.9M117.0 534.6L119.5 534.3L122.0 534.0M125.0 533.5L127.5 533.2L130.0 532.9M133.0 532.6L135.5 532.3L138.0 532.0M141.0 531.8L143.5 531.5L146.0 531.4M149.0 531.4L151.5 531.3L154.0 531.4M157.0 531.4L159.5 531.5L162.0 531.8M165.0 532.0L167.5 532.3L170.0 532.7M173.0 533.1L175.5 533.5L178.0 533.8M181.0 534.0L183.5 534.3L186.0 534.3M189.0 534.3L191.5 534.3L194.0 534.3M197.0 534.3L199.5 534.3L202.0 534.3M205.0 534.3L207.5 534.3L210.0 534.3M213.0 534.3L215.5 534.3L218.0 534.3M221.0 534.3L223.5 534.3L226.0 534.3M229.0 534.3L231.5 534.3L234.0 534.3M237.0 534.3L239.5 534.3L242.0 534.4M245.0 534.6L247.5 534.7L250.0 535.0M253.0 535.2L255.5 535.5L258.0 535.5M261.0 535.5L263.5 535.5L266.0 535.8M269.0 536.2L271.5 536.5L274.0 536.8M277.0 537.0L279.5 537.3L282.0 537.3M285.0 537.3L287.5 537.3L290.0 537.6M293.0 537.9L295.5 538.2L298.0 538.2M301.0 538.2L303.5 538.2L306.0 538.2M309.0 538.2L311.5 538.2L314.0 537.9M317.0 537.6L319.5 537.3L322.0 537.0M325.0 536.6L327.5 536.3L330.0 536.0M333.0 535.8L335.5 535.5L338.0 535.1M341.0 534.7L343.5 534.3L346.0 534.0M349.0 533.8L351.5 533.5L354.0 533.1M357.0 532.7L359.5 532.3L362.0 532.0M365.0 531.6L367.5 531.3L370.0 530.7M373.0 529.9L375.5 529.3L378.0 528.7M381.0 527.9L383.5 527.3L386.0 526.6M389.0 525.9L391.5 525.2L394.0 524.7M397.0 524.0L399.5 523.5L402.0 523.1M405.0 522.6L407.5 522.2L410.0 521.3M413.0 520.2L415.5 519.3L418.0 518.7M421.0 517.9L423.5 517.3L426.0 516.7M429.0 516.1L431.5 515.5L434.0 514.5M437.0 513.3L439.5 512.3L442.0 511.7M445.0 511.1L447.5 510.5L450.0 509.9M453.0 509.1L455.5 508.5L458.0 508.1M461.0 507.7L463.5 507.3L466.0 506.7M469.0 506.1L471.5 505.5L474.0 504.8M477.0 503.9L479.5 503.2L482.0 502.7M485.0 502.0L487.5 501.5L490.0 501.2M493.0 500.8L495.5 500.5L498.0 500.1M501.0 499.7L503.5 499.3L506.0 498.7M509.0 497.9L511.5 497.3L514.0 496.7M517.0 496.1L519.5 495.5L522.0 495.2M525.0 494.9L527.5 494.7L530.0 493.9M533.0 493.1L535.5 492.3L538.0 492.1M541.0 491.8L543.5 491.5L546.0 491.5M549.0 491.5L551.5 491.5L554.0 491.2M557.0 490.8L559.5 490.5L562.0 490.8M565.0 491.1L567.5 491.3L570.0 491.3M573.0 491.3L575.5 491.3L578.0 491.9M581.0 492.6L583.5 493.2L586.0 493.5M589.0 494.0L591.5 494.3L594.0 494.7M597.0 495.1L599.5 495.5L602.0 495.6M605.0 495.6L607.5 495.7L610.0 495.9M613.0 496.1L615.5 496.3L618.0 496.4M621.0 496.4L623.5 496.5L626.0 496.8M629.0 497.1L631.5 497.3L634.0 497.3M637.0 497.3L639.5 497.3L642.0 497.3M645.0 497.3L647.5 497.3L650.0 497.6M653.0 497.9L655.5 498.2L658.0 498.5M661.0 499.0L663.5 499.3L666.0 500.0M669.0 500.8L671.5 501.5L674.0 502.8M677.0 504.2L679.5 505.5L682.0 506.8M685.0 508.4L687.5 509.7L690.0 511.1M693.0 512.9L695.5 514.3L698.0 516.2M701.0 518.6L703.5 520.5L706.0 522.1M709.0 523.9L711.5 525.5L714.0 527.0M717.0 528.7L719.5 530.2L722.0 531.8M725.0 533.6L727.5 535.2L730.0 536.5M733.0 538.0L735.5 539.3L738.0 540.5M741.0 542.0L743.5 543.2L746.0 543.9M749.0 544.8L751.5 545.5L754.0 546.2M757.0 547.0L759.5 547.7L762.0 548.2M765.0 548.8L767.5 549.3L770.0 549.6M773.0 549.9L775.5 550.2L778.0 550.2M781.0 550.2L783.5 550.2L786.0 550.2M789.0 550.2L791.5 550.2L794.0 550.2M797.0 550.2L799.5 550.2L802.0 550.6M805.0 551.1L807.5 551.5L810.0 551.8M813.0 552.0L815.5 552.3L818.0 552.3M821.0 552.3L823.5 552.3L826.0 552.7M829.0 553.1L831.5 553.5L834.0 553.8M837.0 554.0L839.5 554.3L842.0 554.7M845.0 555.1L847.5 555.5L850.0 556.4M853.0 557.6L855.5 558.5L858.0 559.4M861.0 560.6L863.5 561.5L866.0 562.7M869.0 564.0L871.5 565.2L874.0 566.4M877.0 567.8L879.5 569.0L882.0 570.2M885.0 571.8L887.5 573.0L890.0 574.3M893.0 575.9L895.5 577.2L898.0 578.3M901.0 579.6L903.5 580.7L906.0 581.6M909.0 582.6L911.5 583.5L914.0 584.1M917.0 584.9L919.5 585.5L922.0 585.8M925.0 586.2L927.5 586.5L930.0 586.7M933.0 587.0L935.5 587.2L938.0 586.9M941.0 586.6L943.5 586.3L946.0 586.0M949.0 585.8L951.5 585.5L954.0 585.1M957.0 584.7L959.5 584.3L962.0 584.0M965.0 583.8L967.5 583.5L970.0 583.1M973.0 582.7L975.5 582.3L978.0 582.3M981.0 582.3L983.5 582.3L986.0 582.0M989.0 581.8L991.5 581.5L994.0 581.5M997.0 581.5L999.5 581.5L1002.0 581.5M1005.0 581.5L1007.5 581.5L1010.0 581.2M1013.0 580.8L1015.5 580.5L1018.0 580.1M1021.0 579.7L1023.5 579.3L1026.0 578.6M1029.0 577.9L1031.5 577.2L1034.0 576.2M1037.0 575.0L1039.5 574.0L1042.0 572.8M1045.0 571.4L1047.5 570.2L1050.0 568.8M1053.0 567.1L1055.5 565.7L1058.0 564.1M1061.0 562.3L1063.5 560.7L1066.0 559.3M1069.0 557.7L1071.5 556.3L1074.0 555.2M1077.0 553.8L1079.5 552.7L1082.0 551.6M1085.0 550.4L1087.5 549.3L1090.0 548.8M1093.0 548.2L1095.5 547.7L1098.0 547.7M1101.0 547.7L1103.5 547.7L1106.0 548.0M1109.0 548.2L1111.5 548.5L1114.0 549.4M1117.0 550.6L1119.5 551.5L1122.0 552.4M1125.0 553.4L1127.5 554.3L1130.0 555.5M1133.0 556.8L1135.5 558.0L1138.0 559.3M1141.0 560.9L1143.5 562.2L1146.0 563.4M1149.0 564.8L1151.5 566.0L1154.0 567.0M1157.0 568.3L1159.5 569.3L1162.0 569.9M1165.0 570.7L1167.5 571.3L1170.0 571.6M1173.0 572.0L1175.5 572.3L1175.2 572.3" fill="none" stroke="#ff0000" stroke-width="1" stroke-linejoin="bevel" shape-rendering="crispEdges"/>
<g shape-rendering="crispEdges">
<line x1="8" y1="621.5" x2="1194" y2="621.5" stroke="#c0c0c0" stroke-width="1" stroke-dasharray="3 3"/>
<line x1="8" y1="651.5" x2="1194" y2="651.5" stroke="#c0c0c0" stroke-width="1" stroke-dasharray="3 3"/>
</g>
<polyline points="7.0,643.6 7.5,643.3 15.5,640.3 23.5,641.3 31.5,639.2 39.5,633.3 47.5,634.5 55.5,635.5 63.5,639.2 71.5,636.3 79.5,636.3 87.5,630.3 95.5,634.2 103.5,634.5 111.5,633.3 119.5,637.2 127.5,638.3 135.5,639.2 143.5,640.3 151.5,640.3 159.5,643.3 167.5,636.3 175.5,637.5 183.5,634.2 191.5,635.3 199.5,635.3 207.5,637.5 215.5,638.3 223.5,638.3 231.5,642.5 239.5,642.5 247.5,642.5 255.5,639.2 263.5,641.3 271.5,641.3 279.5,635.3 287.5,638.3 295.5,639.5 303.5,640.5 311.5,637.5 319.5,632.5 327.5,630.0 335.5,632.5 343.5,631.3 351.5,633.7 359.5,632.5 367.5,631.3 375.5,625.0 383.5,623.3 391.5,623.3 399.5,625.3 407.5,623.0 415.5,616.2 423.5,626.3 431.5,624.2 439.5,625.3 447.5,622.5 455.5,627.5 463.5,626.2 471.5,620.0 479.5,622.5 487.5,624.2 495.5,622.5 503.5,622.5 511.5,619.5 519.5,618.3 527.5,621.2 535.5,622.5 543.5,625.3 551.5,624.2 559.5,623.3 567.5,633.3 575.5,630.3 583.5,629.2 591.5,623.3 599.5,624.2 607.5,622.2 615.5,622.2 623.5,624.2 631.5,632.2 639.5,633.3 647.5,632.2 655.5,633.3 663.5,631.3 671.5,644.2 679.5,647.5 687.5,646.3 695.5,648.3 703.5,649.5 711.5,643.3 719.5,643.3 727.5,639.2 735.5,640.3 743.5,642.2 751.5,643.3 759.5,647.5 767.5,647.5 775.5,640.3 783.5,640.3 791.5,640.3 799.5,639.2 807.5,647.0 815.5,644.2 823.5,647.2 831.5,647.2 839.5,650.3 847.5,653.3 855.5,655.3 863.5,657.5 871.5,656.3 879.5,655.3 887.5,652.2 895.5,654.2 903.5,649.2 911.5,650.8 919.5,650.3 927.5,646.3 935.5,649.2 943.5,649.2 951.5,647.2 959.5,652.5 967.5,651.3 975.5,651.3 983.5,653.3 991.5,649.2 999.5,648.3 1007.5,648.3 1015.5,641.3 1023.5,641.3 1031.5,636.7 1039.5,629.5 1047.5,628.3 1055.5,634.2 1063.5,635.5 1071.5,640.0 1079.5,643.3 1087.5,645.3 1095.5,648.3 1103.5,650.3 1111.5,652.5 1119.5,651.3 1127.5,651.3 1135.5,653.3 1143.5,648.3 1151.5,643.3 1159.5,645.3 1167.5,643.3 1175.5,644.5" fill="none" stroke="#1e90ff" stroke-width="1" shape-rendering="crispEdges"/>
<g shape-rendering="crispEdges" fill="#000">
<rect x="6" y="6" width="1" height="668"/>
<rect x="1194" y="6" width="1" height="668"/>
<rect x="6" y="6" width="1189" height="1"/>
<rect x="6" y="479" width="1189" height="1"/>
<rect x="6" y="481" width="1189" height="1"/>
<rect x="6" y="596" width="1189" height="1"/>
<rect x="6" y="598" width="1189" height="1"/>
<rect x="6" y="673" width="1189" height="1"/>
<rect x="1195" y="14" width="2" height="1"/>
<rect x="1195" y="47" width="2" height="1"/>
<rect x="1195" y="80" width="2" height="1"/>
<rect x="1195" y="113" width="2" height="1"/>
<rect x="1195" y="146" width="2" height="1"/>
<rect x="1195" y="179" width="2" height="1"/>
<rect x="1195" y="212" width="2" height="1"/>
<rect x="1195" y="245" width="2" height="1"/>
<rect x="1195" y="278" width="2" height="1"/>
<rect x="1195" y="311" width="2" height="1"/>
<rect x="1195" y="344" width="2" height="1"/>
<rect x="1195" y="377" width="2" height="1"/>
<rect x="1195" y="410" width="2" height="1"/>
<rect x="1195" y="443" width="2" height="1"/>
<rect x="1195" y="476" width="2" height="1"/>
<rect x="1195" y="483" width="1" height="1"/>
<rect x="1195" y="530" width="1" height="1"/>
<rect x="1195" y="595" width="1" height="1"/>
<rect x="1195" y="600" width="1" height="1"/>
<rect x="7" y="674" width="1" height="3"/>
<rect x="71" y="674" width="1" height="3"/>
<rect x="135" y="674" width="1" height="3"/>
<rect x="199" y="674" width="1" height="3"/>
<rect x="263" y="674" width="1" height="3"/>
<rect x="327" y="674" width="1" height="3"/>
<rect x="391" y="674" width="1" height="3"/>
<rect x="455" y="674" width="1" height="3"/>
<rect x="519" y="674" width="1" height="3"/>
<rect x="583" y="674" width="1" height="3"/>
<rect x="647" y="674" width="1" height="3"/>
<rect x="711" y="674" width="1" height="3"/>
<rect x="775" y="674" width="1" height="3"/>
<rect x="839" y="674" width="1" height="3"/>
<rect x="903" y="674" width="1" height="3"/>
<rect x="967" y="674" width="1" height="3"/>
<rect x="1031" y="674" width="1" height="3"/>
<rect x="1095" y="674" width="1" height="3"/>
<rect x="1159" y="674" width="1" height="3"/>
<path d="M10 13h7v1h-1v1h-1v1h-1v1h-1v-1h-1v-1h-1v-1h-1z"/>
</g>
<g shape-rendering="crispEdges">
<rect x="6" y="186" width="1188" height="2" fill="#ff0000"/>
<rect x="6" y="275" width="1188" height="2" fill="#ff0000"/>
<rect x="6" y="349" width="1188" height="2" fill="#e8113a"/>
<rect x="6" y="423" width="1188" height="2" fill="#08cc08"/>
</g>
<text x="1199.3" y="18" font-size="10.0" fill="#000" stroke="#000" stroke-width="0.2" textLength="33" lengthAdjust="spacingAndGlyphs" text-anchor="start">2003.50</text>
<text x="1200.2" y="51" font-size="10.0" fill="#000" stroke="#000" stroke-width="0.2" textLength="32.1" lengthAdjust="spacingAndGlyphs" text-anchor="start">1992.40</text>
<text x="1200.2" y="84" font-size="10.0" fill="#000" stroke="#000" stroke-width="0.2" textLength="32.1" lengthAdjust="spacingAndGlyphs" text-anchor="start">1981.30</text>
<text x="1200.2" y="117" font-size="10.0" fill="#000" stroke="#000" stroke-width="0.2" textLength="32.1" lengthAdjust="spacingAndGlyphs" text-anchor="start">1969.90</text>
<text x="1200.2" y="150" font-size="10.0" fill="#000" stroke="#000" stroke-width="0.2" textLength="32.1" lengthAdjust="spacingAndGlyphs" text-anchor="start">1958.80</text>
<text x="1200.2" y="183" font-size="10.0" fill="#000" stroke="#000" stroke-width="0.2" textLength="32.1" lengthAdjust="spacingAndGlyphs" text-anchor="start">1947.70</text>
<text x="1200.2" y="216" font-size="10.0" fill="#000" stroke="#000" stroke-width="0.2" textLength="32.1" lengthAdjust="spacingAndGlyphs" text-anchor="start">1936.60</text>
<text x="1200.2" y="249" font-size="10.0" fill="#000" stroke="#000" stroke-width="0.2" textLength="32.1" lengthAdjust="spacingAndGlyphs" text-anchor="start">1925.50</text>
<text x="1200.2" y="282" font-size="10.0" fill="#000" stroke="#000" stroke-width="0.2" textLength="32.1" lengthAdjust="spacingAndGlyphs" text-anchor="start">1914.40</text>
<text x="1200.2" y="315" font-size="10.0" fill="#000" stroke="#000" stroke-width="0.2" textLength="32.1" lengthAdjust="spacingAndGlyphs" text-anchor="start">1903.30</text>
<text x="1200.2" y="348" font-size="10.0" fill="#000" stroke="#000" stroke-width="0.2" textLength="32.1" lengthAdjust="spacingAndGlyphs" text-anchor="start">1891.90</text>
<text x="1200.2" y="381" font-size="10.0" fill="#000" stroke="#000" stroke-width="0.2" textLength="32.1" lengthAdjust="spacingAndGlyphs" text-anchor="start">1880.80</text>
<text x="1200.2" y="414" font-size="10.0" fill="#000" stroke="#000" stroke-width="0.2" textLength="32.1" lengthAdjust="spacingAndGlyphs" text-anchor="start">1869.70</text>
<text x="1200.2" y="447" font-size="10.0" fill="#000" stroke="#000" stroke-width="0.2" textLength="32.1" lengthAdjust="spacingAndGlyphs" text-anchor="start">1858.60</text>
<text x="1200.2" y="480" font-size="10.0" fill="#000" stroke="#000" stroke-width="0.2" textLength="32.1" lengthAdjust="spacingAndGlyphs" text-anchor="start">1847.50</text>
<text x="1198.5" y="492" font-size="10.0" fill="#000" stroke="#000" stroke-width="0.2" textLength="26.8" lengthAdjust="spacingAndGlyphs" text-anchor="start">12.502</text>
<text x="1197.5" y="534" font-size="10.0" fill="#000" stroke="#000" stroke-width="0.2" textLength="17.8" lengthAdjust="spacingAndGlyphs" text-anchor="start">0.00</text>
<text x="1198" y="593" font-size="10.0" fill="#000" stroke="#000" stroke-width="0.2" textLength="30" lengthAdjust="spacingAndGlyphs" text-anchor="start">-17.221</text>
<text x="1198.5" y="609" font-size="10.0" fill="#000" stroke="#000" stroke-width="0.2" textLength="13.5" lengthAdjust="spacingAndGlyphs" text-anchor="start">100</text>
<text x="1197.2" y="625" font-size="10.0" fill="#000" stroke="#000" stroke-width="0.2" textLength="9.6" lengthAdjust="spacingAndGlyphs" text-anchor="start">70</text>
<text x="1197.2" y="655" font-size="10.0" fill="#000" stroke="#000" stroke-width="0.2" textLength="9.6" lengthAdjust="spacingAndGlyphs" text-anchor="start">30</text>
<text x="1197.8" y="670" font-size="10.0" fill="#000" stroke="#000" stroke-width="0.2" textLength="4.8" lengthAdjust="spacingAndGlyphs" text-anchor="start">0</text>
<rect x="1197" y="181" width="39" height="11" fill="#ff0000" shape-rendering="crispEdges"/>
<text x="1200.2" y="190" font-size="10.0" fill="#fff" stroke="#fff" stroke-width="0" textLength="32.3" lengthAdjust="spacingAndGlyphs" text-anchor="start">1945.00</text>
<rect x="1197" y="270" width="39" height="11" fill="#ff0000" shape-rendering="crispEdges"/>
<text x="1200.2" y="279" font-size="10.0" fill="#fff" stroke="#fff" stroke-width="0" textLength="32.3" lengthAdjust="spacingAndGlyphs" text-anchor="start">1915.00</text>
<rect x="1197" y="344" width="39" height="11" fill="#e8113a" shape-rendering="crispEdges"/>
<text x="1200.2" y="353" font-size="10.0" fill="#fff" stroke="#fff" stroke-width="0" textLength="32.3" lengthAdjust="spacingAndGlyphs" text-anchor="start">1890.00</text>
<rect x="1197" y="413" width="39" height="11" fill="#000" shape-rendering="crispEdges"/>
<text x="1200.2" y="422" font-size="10.0" fill="#fff" stroke="#fff" stroke-width="0" textLength="32.3" lengthAdjust="spacingAndGlyphs" text-anchor="start">1867.16</text>
<rect x="1197" y="418" width="39" height="11" fill="#08cc08" shape-rendering="crispEdges"/>
<text x="1200.2" y="427" font-size="10.0" fill="#fff" stroke="#fff" stroke-width="0" textLength="32.3" lengthAdjust="spacingAndGlyphs" text-anchor="start">1865.00</text>
<text x="21.6" y="18" font-size="10.0" fill="#000" stroke="#000" stroke-width="0.2" textLength="57.2" lengthAdjust="spacingAndGlyphs" text-anchor="start">XAUUSD-,H4</text>
<text x="85.2" y="18" font-size="10.0" fill="#000" stroke="#000" stroke-width="0.2" textLength="32" lengthAdjust="spacingAndGlyphs" text-anchor="start">1868.62</text>
<text x="121.25" y="18" font-size="10.0" fill="#000" stroke="#000" stroke-width="0.2" textLength="32" lengthAdjust="spacingAndGlyphs" text-anchor="start">1869.37</text>
<text x="157.3" y="18" font-size="10.0" fill="#000" stroke="#000" stroke-width="0.2" textLength="32" lengthAdjust="spacingAndGlyphs" text-anchor="start">1866.98</text>
<text x="193.35" y="18" font-size="10.0" fill="#000" stroke="#000" stroke-width="0.2" textLength="32" lengthAdjust="spacingAndGlyphs" text-anchor="start">1867.16</text>
<text x="10.8" y="494" font-size="10.0" fill="#000" stroke="#000" stroke-width="0.2" textLength="133" lengthAdjust="spacingAndGlyphs" text-anchor="start">MACD(12,26,9) -10.384 -11.037</text>
<text x="10.8" y="611" font-size="10.0" fill="#000" stroke="#000" stroke-width="0.2" textLength="67.2" lengthAdjust="spacingAndGlyphs" text-anchor="start">RSI(14) 39.0581</text>
<text x="5.8" y="686" font-size="10.0" fill="#000" stroke="#000" stroke-width="0.2" textLength="51.4" lengthAdjust="spacingAndGlyphs" text-anchor="start">29 Mar 2022</text>
<text x="69.8" y="686" font-size="10.0" fill="#000" stroke="#000" stroke-width="0.2" textLength="54.2" lengthAdjust="spacingAndGlyphs" text-anchor="start">31 Mar 04:00</text>
<text x="133.8" y="686" font-size="10.0" fill="#000" stroke="#000" stroke-width="0.2" textLength="47.5" lengthAdjust="spacingAndGlyphs" text-anchor="start">1 Apr 12:00</text>
<text x="197.8" y="686" font-size="10.0" fill="#000" stroke="#000" stroke-width="0.2" textLength="48.3" lengthAdjust="spacingAndGlyphs" text-anchor="start">4 Apr 20:00</text>
<text x="261.8" y="686" font-size="10.0" fill="#000" stroke="#000" stroke-width="0.2" textLength="48.3" lengthAdjust="spacingAndGlyphs" text-anchor="start">6 Apr 04:00</text>
<text x="325.8" y="686" font-size="10.0" fill="#000" stroke="#000" stroke-width="0.2" textLength="48.3" lengthAdjust="spacingAndGlyphs" text-anchor="start">7 Apr 12:00</text>
<text x="389.8" y="686" font-size="10.0" fill="#000" stroke="#000" stroke-width="0.2" textLength="52.6" lengthAdjust="spacingAndGlyphs" text-anchor="start">10 Apr 23:00</text>
<text x="453.8" y="686" font-size="10.0" fill="#000" stroke="#000" stroke-width="0.2" textLength="52.6" lengthAdjust="spacingAndGlyphs" text-anchor="start">12 Apr 04:00</text>
<text x="517.8" y="686" font-size="10.0" fill="#000" stroke="#000" stroke-width="0.2" textLength="52.6" lengthAdjust="spacingAndGlyphs" text-anchor="start">13 Apr 12:00</text>
<text x="581.8" y="686" font-size="10.0" fill="#000" stroke="#000" stroke-width="0.2" textLength="52.6" lengthAdjust="spacingAndGlyphs" text-anchor="start">14 Apr 20:00</text>
<text x="645.8" y="686" font-size="10.0" fill="#000" stroke="#000" stroke-width="0.2" textLength="52.6" lengthAdjust="spacingAndGlyphs" text-anchor="start">19 Apr 00:00</text>
<text x="709.8" y="686" font-size="10.0" fill="#000" stroke="#000" stroke-width="0.2" textLength="52.6" lengthAdjust="spacingAndGlyphs" text-anchor="start">20 Apr 08:00</text>
<text x="773.8" y="686" font-size="10.0" fill="#000" stroke="#000" stroke-width="0.2" textLength="52.6" lengthAdjust="spacingAndGlyphs" text-anchor="start">21 Apr 16:00</text>
<text x="837.8" y="686" font-size="10.0" fill="#000" stroke="#000" stroke-width="0.2" textLength="52.6" lengthAdjust="spacingAndGlyphs" text-anchor="start">25 Apr 00:00</text>
<text x="901.8" y="686" font-size="10.0" fill="#000" stroke="#000" stroke-width="0.2" textLength="52.6" lengthAdjust="spacingAndGlyphs" text-anchor="start">26 Apr 08:00</text>
<text x="965.8" y="686" font-size="10.0" fill="#000" stroke="#000" stroke-width="0.2" textLength="52.6" lengthAdjust="spacingAndGlyphs" text-anchor="start">27 Apr 16:00</text>
<text x="1029.8" y="686" font-size="10.0" fill="#000" stroke="#000" stroke-width="0.2" textLength="52.6" lengthAdjust="spacingAndGlyphs" text-anchor="start">29 Apr 00:00</text>
<text x="1093.8" y="686" font-size="10.0" fill="#000" stroke="#000" stroke-width="0.2" textLength="51.6" lengthAdjust="spacingAndGlyphs" text-anchor="start">2 May 08:00</text>
<text x="1157.8" y="686" font-size="10.0" fill="#000" stroke="#000" stroke-width="0.2" textLength="52.2" lengthAdjust="spacingAndGlyphs" text-anchor="start">3 May 16:00</text>
<text x="871.3 904.4 939.6 975.2 1010.3" y="97.5" font-size="35" fill="#ff0000" style="font-family:'Liberation Sans','Noto Sans CJK SC',sans-serif">多空转折点</text>
<text x="1042" y="97.2" font-size="35" fill="#ff0000">1</text>
<text x="1058.8" y="97.7" font-size="37.8" fill="#ff0000" stroke="#fff" stroke-width="0.55">865</text>
</svg></body></html>
